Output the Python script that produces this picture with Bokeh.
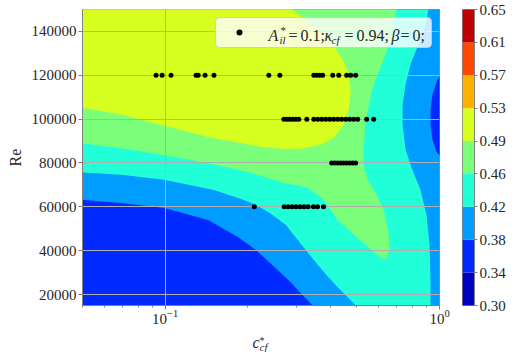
from bokeh.plotting import figure
from bokeh.layouts import row, column
from bokeh.models import Range1d, FixedTicker, PrintfTickFormatter, LogTickFormatter, Label, BoxAnnotation
from bokeh.embed import file_html
from bokeh.resources import INLINE

# ---------------- data ----------------
# sample points: c_cf* values on each Re row
c_re60 = [0.2113, 0.2716, 0.2808, 0.2904, 0.3003, 0.3105, 0.3211, 0.3320, 0.3472, 0.3593, 0.3777]
c_re80 = [0.4048, 0.4151, 0.4256, 0.4365, 0.4475, 0.4589, 0.4705, 0.4825, 0.4948]
c_re100 = [0.2709, 0.2778, 0.2849, 0.2921, 0.2995, 0.3071, 0.3284, 0.3483, 0.3602, 0.3724,
           0.3850, 0.3981, 0.4116, 0.4256, 0.4400, 0.4550, 0.4705, 0.4864, 0.5033, 0.5427, 0.5754]
c_re120 = [0.0927, 0.0975, 0.1051, 0.1297, 0.1320, 0.1398, 0.1507, 0.2388, 0.2619, 0.3483,
           0.3572, 0.3661, 0.3755, 0.4083, 0.4294, 0.4589, 0.4747, 0.4948]
re_rows = [60000, 80000, 100000, 120000]

# contour levels and jet colours of the bands
levels = [0.30, 0.3389, 0.3778, 0.4167, 0.4556, 0.4944, 0.5333, 0.5722, 0.6111, 0.65]
band_colors = ["#0000C0", "#002AFF", "#009CFF", "#20FFD7", "#7BFF7B",
               "#D7FF20", "#FFB100", "#FF4900", "#C00000"]

x_major_ticks = [0.1, 1.0]
x_minor_ticks = [0.05, 0.06, 0.07, 0.08, 0.09, 0.2, 0.3, 0.4, 0.5, 0.6, 0.7, 0.8, 0.9]
y_ticks = [20000, 40000, 60000, 80000, 100000, 120000, 140000]

# filled-contour regions (c_cf*, Re), band index into band_colors
base_c = [0.045, 1.05, 1.05, 0.045]
base_re = [13700, 13700, 155000, 155000]            # band 3 (0.42-0.46)
lb_ll_c = [0.045, 0.0692, 0.0992, 0.1507, 0.189, 0.2143, 0.2429, 0.2754, 0.3045, 0.3483,
           0.3851, 0.4256, 0.4747, 0.508, 0.045]
lb_ll_re = [76000, 74600, 72300, 67700, 63600, 60900, 56800, 51700, 44900, 35700,
            29300, 23300, 17400, 13700, 13700]       # band 2 (0.38-0.42)
b_ll_c = [0.045, 0.0692, 0.0992, 0.1434, 0.1843, 0.2143, 0.2576, 0.2872, 0.3045, 0.3453, 0.354, 0.045]
b_ll_re = [63600, 61800, 59500, 54000, 46200, 40300, 31100, 25600, 22000, 15000, 13700, 13700]  # band 1
lb_r_c = [0.9275, 0.8893, 0.8387, 0.7843, 0.7523, 0.7337, 0.7337, 0.7523, 0.791, 0.8529,
          0.8968, 0.9197, 0.9275, 0.9275, 1.05, 1.05]
lb_r_re = [155000, 143300, 134100, 125000, 115800, 106600, 97500, 86000, 77800, 67700,
           56300, 42600, 26500, 13700, 13700, 155000]  # band 2
b_r_c = [1.05, 0.9833, 0.943, 0.9275, 0.9275, 0.943, 0.9752, 1.05]
b_r_re = [122700, 118100, 111200, 104400, 97500, 90600, 85100, 80600]  # band 1
g_c = [0.045, 0.0752, 0.1352, 0.2055, 0.2709, 0.3311, 0.3787, 0.4256, 0.4747, 0.5382,
       0.6000, 0.6257, 0.6416, 0.658, 0.6524, 0.6257, 0.5852, 0.5473, 0.5292, 0.5292,
       0.5382, 0.5707, 0.6362, 0.6635, 0.7036, 0.7036, 0.045]
g_re = [89700, 86000, 80600, 75500, 70900, 68700, 63200, 54000, 48500, 42600,
        37500, 36200, 36600, 40300, 48100, 58600, 66400, 72300, 79200, 86000,
        98900, 114400, 129500, 137300, 152400, 155000, 155000]  # band 4 (0.46-0.49)
y_c = [0.045, 0.0692, 0.0992, 0.147, 0.2234, 0.2642, 0.3122, 0.3693, 0.4116, 0.4476,
       0.4668, 0.4747, 0.4629, 0.4476, 0.4014, 0.3396, 0.2872, 0.2824, 0.045]
y_re = [106200, 102100, 97000, 91500, 87400, 86500, 86500, 88300, 91500, 97500,
        104400, 113500, 121700, 126300, 135500, 143300, 150600, 155000, 155000]  # band 5

region_xs = [base_c, lb_ll_c, b_ll_c, lb_r_c, b_r_c, g_c, y_c]
region_ys = [base_re, lb_ll_re, b_ll_re, lb_r_re, b_r_re, g_re, y_re]
region_band = [3, 2, 1, 2, 1, 4, 5]

FONT = "Liberation Serif"
TXT = "#262626"
SPINE = "#808080"

# ---------------- main figure ----------------
p = figure(x_axis_type="log", x_range=Range1d(0.05, 1.0), y_range=Range1d(15000, 150000),
           width=451, height=330, min_border_left=82, min_border_right=12,
           min_border_top=9, min_border_bottom=25, toolbar_location=None,
           output_backend="svg", title=None)

p.patches(xs=region_xs, ys=region_ys, fill_color=[band_colors[b] for b in region_band],
          line_color=None, level="image")

sc_c, sc_re = [], []
for re_v, cs in zip(re_rows, [c_re60, c_re80, c_re100, c_re120]):
    sc_c += cs
    sc_re += [re_v] * len(cs)
p.scatter(sc_c, sc_re, size=5, fill_color="black", line_color=None)

p.xaxis.ticker = FixedTicker(ticks=x_major_ticks, minor_ticks=x_minor_ticks)
p.xgrid.ticker = FixedTicker(ticks=x_major_ticks)
p.xaxis.formatter = LogTickFormatter()
p.yaxis.ticker = FixedTicker(ticks=y_ticks)
p.ygrid.ticker = FixedTicker(ticks=y_ticks)
p.yaxis.formatter = PrintfTickFormatter(format="%d")

p.grid.grid_line_color = "#b0b0b0"
p.grid.grid_line_width = 1
p.outline_line_color = SPINE
p.axis.axis_line_color = SPINE
p.axis.major_tick_line_color = SPINE
p.axis.minor_tick_line_color = SPINE
p.axis.major_tick_in = 0
p.axis.major_tick_out = 4
p.axis.minor_tick_in = 0
p.axis.minor_tick_out = 2
p.yaxis.minor_tick_line_color = None
p.yaxis.major_label_standoff = 2
p.xaxis.major_label_standoff = 0
p.axis.major_label_text_font = FONT
p.axis.major_label_text_font_size = "15px"
p.axis.major_label_text_color = TXT
p.yaxis.axis_label = "Re"
p.yaxis.axis_label_text_font = FONT
p.yaxis.axis_label_text_font_style = "normal"
p.yaxis.axis_label_text_font_size = "16px"
p.yaxis.axis_label_text_color = TXT
p.yaxis.axis_label_standoff = 5


def lab(fig, x, y, text, size, style="normal"):
    fig.add_layout(Label(x=x, y=y, x_units="screen", y_units="screen", text=text,
                         text_font=FONT, text_font_size=size, text_font_style=style,
                         text_color=TXT, text_baseline="alphabetic", text_align="left"))


# legend box
p.add_layout(BoxAnnotation(left=133, right=349, bottom=258, top=288,
                           left_units="screen", right_units="screen",
                           bottom_units="screen", top_units="screen",
                           fill_color="white", fill_alpha=0.8, line_color="#cccccc",
                           line_alpha=0.9, line_width=1, border_radius=4))
p.add_layout(BoxAnnotation(left=154, right=160, bottom=270, top=276,
                           left_units="screen", right_units="screen",
                           bottom_units="screen", top_units="screen",
                           fill_color="black", fill_alpha=1, line_color=None, border_radius=3))
lab(p, 186, 270, "A", "16px", "italic")
lab(p, 198, 276, "*", "11px")
lab(p, 197, 266, "il", "11px", "italic")
lab(p, 206, 270, "=", "16px")
lab(p, 218, 270, "0.1;", "16px")
lab(p, 242, 270, "κ", "16px", "italic")
lab(p, 249, 266, "cf", "11px", "italic")
lab(p, 262, 270, "=", "16px")
lab(p, 274, 270, "0.94;", "16px")
lab(p, 309, 270, "β", "16px", "italic")
lab(p, 318, 270, "=", "16px")
lab(p, 330, 270, "0;", "16px")

# ---------------- colour bar ----------------
cb = figure(x_range=Range1d(0, 1), y_range=Range1d(levels[0], levels[-1]),
            width=57, height=330, min_border_left=11, min_border_right=32,
            min_border_top=9, min_border_bottom=25, x_axis_location=None,
            y_axis_location="right", toolbar_location=None, output_backend="svg", title=None)
cb.quad(left=0, right=1, bottom=levels[:-1], top=levels[1:], fill_color=band_colors, line_color=None)
cb.grid.visible = False
cb.outline_line_color = SPINE
cb.yaxis.ticker = FixedTicker(ticks=levels)
cb.yaxis.formatter = PrintfTickFormatter(format="%.2f")
cb.yaxis.axis_line_color = SPINE
cb.yaxis.major_tick_line_color = SPINE
cb.yaxis.major_tick_in = 0
cb.yaxis.major_tick_out = 3
cb.yaxis.minor_tick_line_color = None
cb.yaxis.major_label_standoff = 2
cb.yaxis.major_label_text_font = FONT
cb.yaxis.major_label_text_font_size = "15px"
cb.yaxis.major_label_text_color = TXT

# ---------------- x axis label strip: c*_cf ----------------
lf = figure(width=508, height=22, min_border=0, x_axis_location=None, y_axis_location=None,
            toolbar_location=None, output_backend="svg", title=None,
            x_range=Range1d(0, 1), y_range=Range1d(0, 1))
lf.outline_line_color = None
lf.grid.visible = False
lab(lf, 252, 10, "c", "16px", "italic")
lab(lf, 259, 12, "*", "10px")
lab(lf, 259, 6, "cf", "11px", "italic")

layout = column(row(p, cb), lf)
open("out.html", "w").write(file_html(layout, INLINE))
